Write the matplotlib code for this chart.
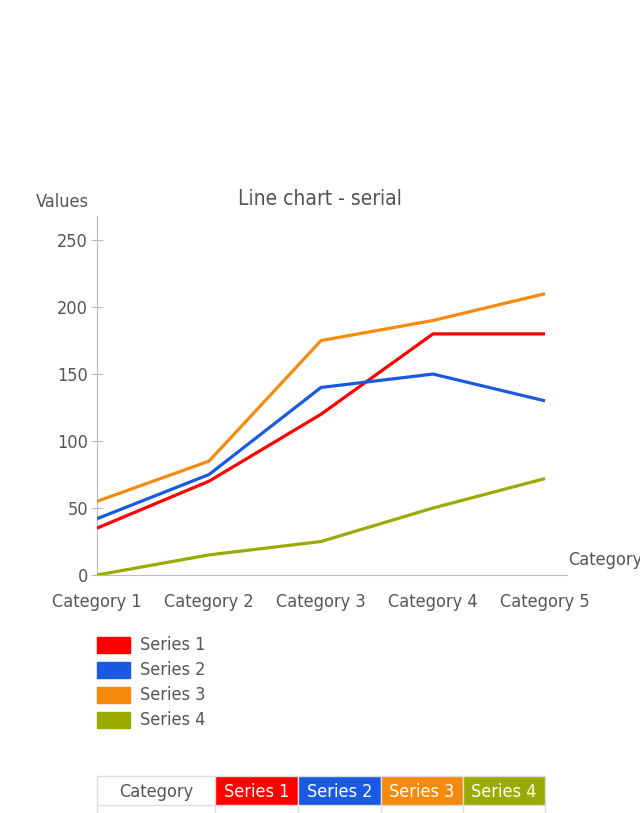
import matplotlib.pyplot as plt
from matplotlib.patches import Rectangle

categories = ['Category 1', 'Category 2', 'Category 3', 'Category 4', 'Category 5']
series_names = ['Series 1', 'Series 2', 'Series 3', 'Series 4']
series1 = [35, 70, 120, 180, 180]
series2 = [42, 75, 140, 150, 130]
series3 = [55, 85, 175, 190, 210]
series4 = [0, 15, 25, 50, 72]
yticks = [0, 50, 100, 150, 200, 250]

colors = ['#ff0000', '#1a5ae0', '#f58a0c', '#9aaa00']
txt = '#555555'
grid_c = '#bbbbbb'
plt.rcParams['font.family'] = ['DejaVu Sans']
plt.rcParams['font.stretch'] = 'condensed'
fs = 13

W, H = 640, 813
fig = plt.figure(figsize=(W / 100, H / 100), dpi=100)

def box(l, t, r, b):
    return [l / W, 1 - b / H, (r - l) / W, (b - t) / H]

ax = fig.add_axes(box(97, 216, 567, 575))
for vals, c in zip([series1, series2, series3, series4], colors):
    ax.plot(range(len(categories)), vals, color=c, lw=2.3, solid_capstyle='butt', zorder=3)

ax.set_xlim(0, 4.196)
ax.set_ylim(0, 268)
ax.set_yticks(yticks)
ax.set_xticks(range(len(categories)))
ax.set_xticklabels(categories)
for s in ['top', 'right']:
    ax.spines[s].set_visible(False)
for s in ['left', 'bottom']:
    ax.spines[s].set_color(grid_c)
ax.tick_params(axis='y', direction='inout', length=9, color=grid_c, labelcolor=txt, labelsize=fs, pad=2)
ax.tick_params(axis='x', length=0, labelcolor=txt, labelsize=fs, pad=13)
ax.patch.set_alpha(0)

# overlay for free-standing labels, legend, and table
ov = fig.add_axes([0, 0, 1, 1], zorder=-1)
ov.set_xlim(0, W)
ov.set_ylim(H, 0)
ov.axis('off')

ov.text(320, 199, 'Line chart - serial', color=txt, fontsize=15, va='center', ha='center')
ov.text(36, 202, 'Values', color=txt, fontsize=fs, va='center', ha='left')
# cut off at the right edge, as in the reference
ov.text(568, 560, 'Category', color=txt, fontsize=fs, va='center', ha='left')

# legend
for i, (name, c) in enumerate(zip(series_names, colors)):
    y = 645 + 25 * i
    ov.add_patch(Rectangle((97, y - 8), 33, 16, color=c))
    ov.text(140, y, name, color=txt, fontsize=fs, va='center', ha='left')

# table
col_edges = [97, 215, 298, 381, 463, 545]
top, mid, bot = 776, 805, 813
headers = ['Category'] + series_names
fills = ['white'] + colors
for i, (h, f) in enumerate(zip(headers, fills)):
    l, r = col_edges[i], col_edges[i + 1]
    ov.add_patch(Rectangle((l, top), r - l, mid - top, facecolor=f, edgecolor='#dddddd', lw=1))
    ov.text((l + r) / 2, (top + mid) / 2 + 1, h, color=txt if i == 0 else 'white',
            fontsize=fs, ha='center', va='center')
for x in col_edges:
    ov.plot([x, x], [mid, bot + 2], color='#dddddd', lw=1)

fig.savefig('out.png', dpi=100)
